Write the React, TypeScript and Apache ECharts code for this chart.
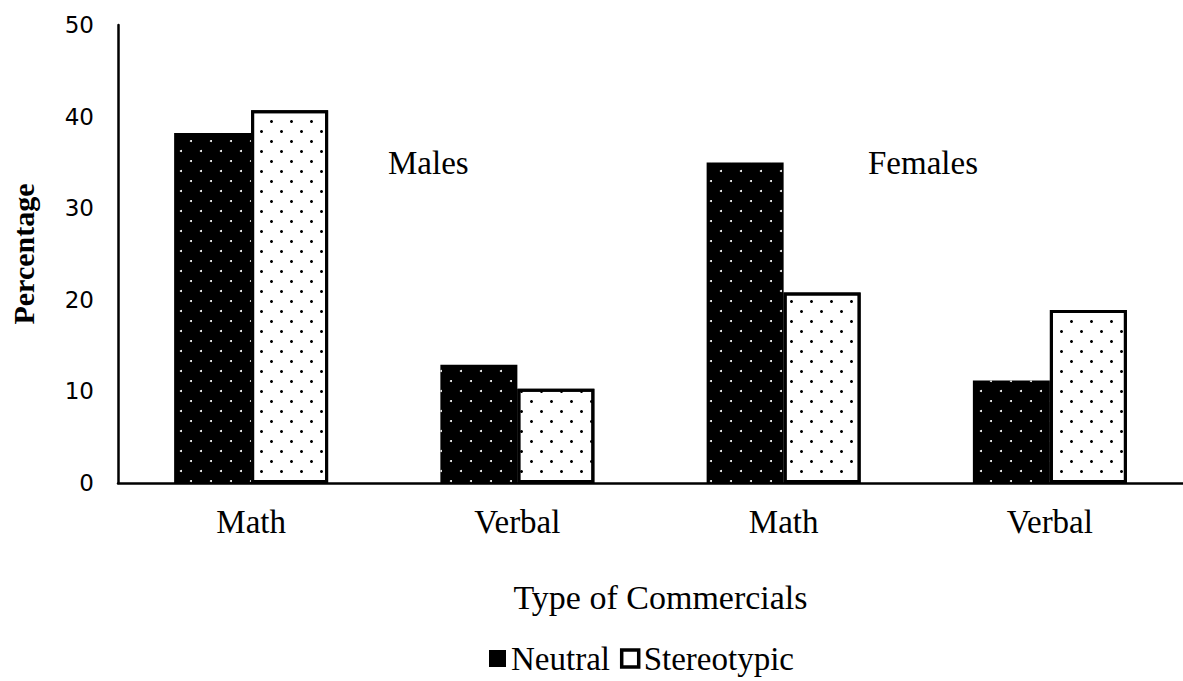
import React, { useEffect, useRef } from "react";
import * as echarts from "echarts";

const categories = ["Math", "Verbal", "Math", "Verbal"];
const neutral = [38.2, 12.9, 35.0, 11.2];
const stereotypic = [40.7, 10.3, 20.8, 18.9];
const yTicks = { min: 0, max: 50, interval: 10 };
const groupLabels = ["Males", "Females"];

const SERIF = "Liberation Serif";
const SANS = "DejaVu Sans";

export default function App() {
  const ref = useRef<HTMLDivElement>(null);
  useEffect(() => {
    if (!ref.current) return;
    const chart = echarts.init(ref.current, undefined, { renderer: "svg" });
    const legendText = {
      fontFamily: SERIF,
      fontSize: 33,
      color: "#000",
      rich: { s: { fontFamily: SERIF, fontSize: 33, color: "#000" } },
    };
    chart.setOption({
      animation: false,
      backgroundColor: "#ffffff",
      textStyle: { fontFamily: SERIF, color: "#000" },
      grid: { left: 116, right: 0, top: 25, bottom: 198, containLabel: false },
      legend: {
        bottom: 1,
        left: 484,
        itemWidth: 17,
        itemHeight: 17,
        itemGap: 10,
        icon: "rect",
        formatter: (name: string) => `{s|${name}}`,
        textStyle: legendText,
        data: [
          { name: "Neutral", itemStyle: { color: "#000", decal: "none" } },
          {
            name: "Stereotypic",
            itemStyle: { color: "#fff", borderColor: "#000", borderWidth: 3.5, decal: "none" },
          },
        ],
      },
      xAxis: {
        type: "category",
        data: categories,
        name: "Type of Commercials",
        nameLocation: "middle",
        nameGap: 97,
        nameTextStyle: { fontFamily: SERIF, fontSize: 34, color: "#000", padding: [0, 0, 0, 20] },
        axisLine: { lineStyle: { color: "#000", width: 2.5 } },
        axisTick: { show: false },
        axisLabel: { fontFamily: SERIF, fontSize: 33, color: "#000", margin: 22 },
      },
      yAxis: {
        type: "value",
        min: yTicks.min,
        max: yTicks.max,
        interval: yTicks.interval,
        name: "Percentage",
        nameLocation: "middle",
        nameGap: 80,
        nameTextStyle: { fontFamily: SERIF, fontSize: 30, fontWeight: "bold", color: "#000" },
        axisLine: { show: true, lineStyle: { color: "#000", width: 2.5 } },
        axisTick: { show: false },
        splitLine: { show: false },
        axisLabel: { fontFamily: SANS, fontSize: 23, color: "#000", margin: 24 },
      },
      series: [
        {
          name: "Neutral",
          type: "bar",
          data: neutral,
          barWidth: 77,
          barGap: "0%",
          itemStyle: {
            color: "#000",
            decal: {
              symbol: "circle",
              symbolSize: 1,
              color: "#fff",
              dashArrayX: [[2, 18], [0, 10, 2, 8]],
              dashArrayY: [2, 8],
              rotation: 0,
            },
          },
        },
        {
          name: "Stereotypic",
          type: "bar",
          data: stereotypic,
          barWidth: 77,
          itemStyle: {
            color: "#fff",
            borderColor: "#000",
            borderWidth: 3,
            decal: {
              symbol: "circle",
              symbolSize: 1,
              color: "#000",
              dashArrayX: [[3, 17], [0, 10, 3, 7]],
              dashArrayY: [3, 7],
              rotation: 0,
            },
          },
        },
      ],
      graphic: [
        {
          type: "text",
          left: 388,
          top: 146,
          style: { text: groupLabels[0], font: `33px ${SERIF}`, fill: "#000" },
        },
        {
          type: "text",
          left: 868,
          top: 146,
          style: { text: groupLabels[1], font: `33px ${SERIF}`, fill: "#000" },
        },
      ],
    });
    return () => chart.dispose();
  }, []);
  return (
    <div
      ref={ref}
      style={{ position: "fixed", left: 0, top: 0, width: 1183, height: 681 }}
    />
  );
}
